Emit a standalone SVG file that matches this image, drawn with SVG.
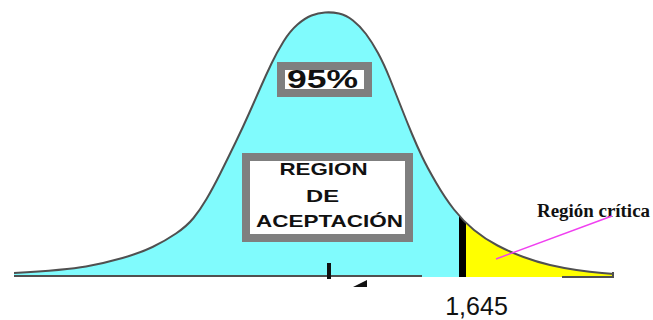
<svg xmlns="http://www.w3.org/2000/svg" width="653" height="320" viewBox="0 0 653 320">
<style>
.box{fill:#ffffff;stroke:#7f7f7f;stroke-width:8}
.cap{font-family:"Liberation Sans",Arial,sans-serif;font-weight:bold;fill:#111;text-anchor:middle}
.axis{stroke:#505050;stroke-width:2;fill:none}
</style>
<defs>
<path id="curveLine" d="M14,273 Q67,270 86,266.5 Q105,263 122.5,258 Q140,253 152.5,247 Q165,241 176,233.5 Q187,226 193.5,218 Q200,210 206.5,199 Q213,188 220.5,173 Q228,158 235.5,142.5 Q243,127 249,113.5 Q255,100 260.5,87.5 Q266,75 271.5,63.5 Q277,52 283.5,41.5 Q290,31 297.5,24.5 Q305,18 311.5,15.5 Q318,13 325,12.5 Q332,12 339,13.5 Q346,15 353,20.5 Q360,26 366,34 Q372,42 378,53 Q384,64 390,79 Q396,94 401.5,108 Q407,122 412,134 Q417,146 422,156.5 Q427,167 436,182.5 Q445,198 454,209.5 Q463,221 474,230 Q485,239 497.5,245.5 Q510,252 523.5,257 Q537,262 550,265 Q563,268 576.5,270 Q590,272 602,273 L614,274"/>
<clipPath id="under">
<path d="M14,273 Q67,270 86,266.5 Q105,263 122.5,258 Q140,253 152.5,247 Q165,241 176,233.5 Q187,226 193.5,218 Q200,210 206.5,199 Q213,188 220.5,173 Q228,158 235.5,142.5 Q243,127 249,113.5 Q255,100 260.5,87.5 Q266,75 271.5,63.5 Q277,52 283.5,41.5 Q290,31 297.5,24.5 Q305,18 311.5,15.5 Q318,13 325,12.5 Q332,12 339,13.5 Q346,15 353,20.5 Q360,26 366,34 Q372,42 378,53 Q384,64 390,79 Q396,94 401.5,108 Q407,122 412,134 Q417,146 422,156.5 Q427,167 436,182.5 Q445,198 454,209.5 Q463,221 474,230 Q485,239 497.5,245.5 Q510,252 523.5,257 Q537,262 550,265 Q563,268 576.5,270 Q590,272 602,273 L614,274 L614,277 L14,277 Z"/>
</clipPath>
</defs>
<rect width="653" height="320" fill="#ffffff"/>
<g id="regions" clip-path="url(#under)">
<rect x="0" y="0" width="460" height="277" fill="#80fbfd"/>
<rect x="465" y="0" width="188" height="277" fill="#ffff00"/>
<rect x="459" y="190" width="7" height="88" fill="#000000"/>
</g>
<g id="curve">
<use href="#curveLine" fill="none" stroke="#505050" stroke-width="2"/>
</g>
<g id="axis">
<line class="axis" x1="14" y1="276" x2="422" y2="276"/>
<line class="axis" x1="562" y1="277" x2="614" y2="277"/>
<line x1="613" y1="272" x2="613" y2="278" stroke="#505050" stroke-width="2"/>
<rect x="327" y="263" width="4" height="16" fill="#111"/>
<polygon points="353,287 367,280 367,287" fill="#111"/>
</g>
<g id="box-95">
<rect class="box" x="281" y="66" width="87" height="27"/>
<text class="cap" x="322.5" y="88" font-size="25" textLength="71" lengthAdjust="spacingAndGlyphs">95%</text>
</g>
<g id="box-region">
<rect class="box" x="246" y="157" width="163" height="81"/>
<text class="cap" x="323.5" y="175" font-size="17" textLength="88" lengthAdjust="spacingAndGlyphs">REGION</text>
<text class="cap" x="322.5" y="202" font-size="17" textLength="33" lengthAdjust="spacingAndGlyphs">DE</text>
<text class="cap" x="329.5" y="227" font-size="17" textLength="147" lengthAdjust="spacingAndGlyphs">ACEPTACIÓN</text>
</g>
<g id="label-critica">
<text x="537" y="217" font-family="'Liberation Serif','Times New Roman',serif" font-weight="bold" font-size="18" fill="#111" textLength="113" lengthAdjust="spacingAndGlyphs">Región crítica</text>
</g>
<g id="label-z">
<text x="476.5" y="315" font-family="'Liberation Sans',Arial,sans-serif" font-size="25" fill="#111" text-anchor="middle">1,645</text>
</g>
<g id="connectors">
<line x1="496" y1="259" x2="612" y2="216" stroke="#f040f0" stroke-width="1.5"/>
</g>
</svg>
